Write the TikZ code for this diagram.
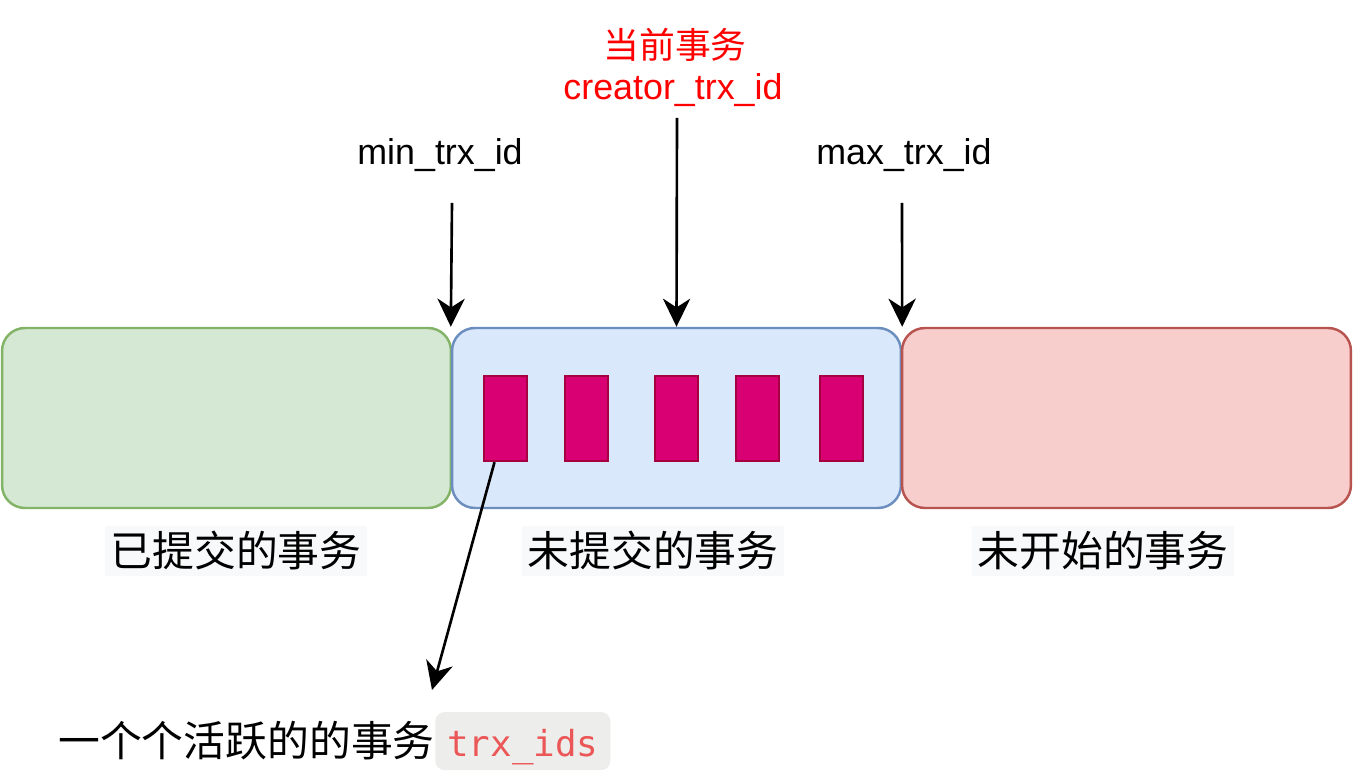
\documentclass[tikz,border=0pt]{standalone}
\usepackage{fontspec}
\setmainfont{Liberation Sans}
\newfontfamily\cjk{Noto Sans CJK SC}
\newfontfamily\codefont{DejaVu Sans Mono}
\usetikzlibrary{arrows.meta,calc,positioning}
\definecolor{doneFill}{HTML}{D5E8D4}
\definecolor{doneLine}{HTML}{82B366}
\definecolor{openFill}{HTML}{DAE8FC}
\definecolor{openLine}{HTML}{6C8EBF}
\definecolor{newFill}{HTML}{F8CECC}
\definecolor{newLine}{HTML}{B85450}
\definecolor{trxFill}{HTML}{D80073}
\definecolor{trxLine}{HTML}{A50040}
\definecolor{labelBg}{HTML}{F8F9FA}
\definecolor{codeBg}{HTML}{EDEDEB}
\definecolor{codeRed}{HTML}{EB5757}
\tikzset{
	region/.style={draw, line width=1.4pt, rounded corners=13pt, minimum width=8.98cm, minimum height=3.6cm, inner sep=0pt},
	trxbox/.style={draw=trxLine, fill=trxFill, line width=1.4pt, minimum width=0.86cm, minimum height=1.7cm, inner sep=0pt},
	pointer/.style={-{Stealth[length=16pt,width=15.5pt,inset=5pt]}, line width=1.5pt},
	idlabel/.style={anchor=base, inner sep=0pt, font=\fontsize{20.4}{24}\selectfont},
	caption/.style={anchor=base, fill=labelBg, inner sep=3pt, font=\cjk\fontsize{23.8}{28}\selectfont},
}

\begin{document}
\begin{tikzpicture}[x=0.02cm, y=-0.02cm]
	\useasboundingbox (0,0) rectangle (1353,783);
	\node[region, draw=doneLine, fill=doneFill] (committed) at (226.5,418) {};
	\node[region, draw=openLine, fill=openFill] (uncommitted) at (676.5,418) {};
	\node[region, draw=newLine, fill=newFill] (notstarted) at (1126.5,418) {};
	\foreach \x [count=\i] in {505.5,586.5,676.5,757.5,841.5}
		\node[trxbox] (t\i) at (\x,418.5) {};
	\node[idlabel] (minlbl) at (440,165) {min\_trx\_id};
	\node[idlabel] (maxlbl) at (904,165) {max\_trx\_id};
	\node[idlabel, text=red] (creatorlbl) at (673,100) {creator\_trx\_id};
	\node[idlabel, text=red, font=\cjk\fontsize{20.4}{24}\selectfont] (curlbl) at (675,59) {当前事务};
	\coordinate (minstart) at (452,203);
	\coordinate (creatorstart) at (677,118);
	\coordinate (maxstart) at (902,203);
	\draw[pointer] (minstart) -- (uncommitted.north west);
	\draw[pointer] (creatorstart) -- (uncommitted.north);
	\draw[pointer] (maxstart) -- (uncommitted.north east);
	\node[caption] (donelbl) at (236,567) {已提交的事务};
	\node[caption] (openlbl) at (653,567) {未提交的事务};
	\node[caption] (newlbl) at (1103,567) {未开始的事务};
	\node[anchor=base east, inner sep=0pt, font=\cjk\fontsize{23.8}{28}\selectfont] (activelbl) at (435,757) {一个个活跃的的事务};
	\node[anchor=base west, fill=codeBg, rounded corners=5pt, text=codeRed, inner xsep=6.8pt, inner ysep=0pt, text height=25.5pt, text depth=7.4pt, font=\codefont\fontsize{20.4}{24}\selectfont] (idslbl) at (activelbl.base east) {trx\_ids};
	\coordinate (activeend) at (432,690);
	\draw[pointer] ($(t1.south)+(-11,0)$) -- (activeend);
\end{tikzpicture}
\end{document}
